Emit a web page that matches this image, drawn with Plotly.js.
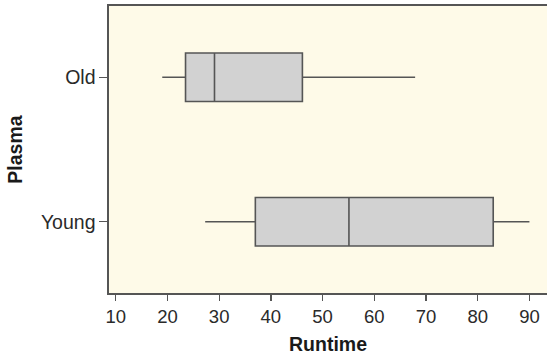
<!DOCTYPE html>
<html>
<head>
<meta charset="utf-8">
<script src="https://cdn.plot.ly/plotly-3.0.1.min.js"></script>
<style>html,body{margin:0;padding:0;background:#fff;}#chart{width:547px;height:356px;}</style>
</head>
<body>
<div id="chart"></div>
<script>
var groups = ["Old", "Young"];
var lowerWhisker = [19.0, 27.3];
var q1Values = [23.5, 37.0];
var medianValues = [29.1, 55.1];
var q3Values = [46.1, 83.0];
var upperWhisker = [67.9, 90.0];
var xTicks = [10, 20, 30, 40, 50, 60, 70, 80, 90];

var traces = groups.map(function (g, i) {
  return {
    type: "box",
    orientation: "h",
    y: [g],
    lowerfence: [lowerWhisker[i]],
    q1: [q1Values[i]],
    median: [medianValues[i]],
    q3: [q3Values[i]],
    upperfence: [upperWhisker[i]],
    width: 0.336,
    whiskerwidth: 0,
    fillcolor: "#d2d2d2",
    line: { color: "#555555", width: 1.6 },
    hoverinfo: "skip",
    showlegend: false
  };
});

var layout = {
  width: 547,
  height: 356,
  margin: { l: 109, r: 0, t: 6, b: 63 },
  paper_bgcolor: "#ffffff",
  plot_bgcolor: "#fefae8",
  font: { family: "Liberation Sans, Arial, sans-serif", color: "#222222", size: 18.5 },
  xaxis: {
    range: [8.7, 93.4],
    tickvals: xTicks,
    ticks: "outside",
    ticklen: 6,
    tickwidth: 1.3,
    tickcolor: "#555555",
    showline: true,
    mirror: true,
    linecolor: "#555555",
    linewidth: 1.6,
    showgrid: false,
    zeroline: false,
    tickfont: { size: 18.5, color: "#2a2a2a" },
    title: { text: "Runtime", font: { size: 19.5, color: "#1a1a1a", weight: "bold" }, standoff: 11 }
  },
  yaxis: {
    type: "category",
    categoryorder: "array",
    categoryarray: ["Young", "Old"],
    range: [-0.494, 1.494],
    ticks: "outside",
    ticklen: 8,
    tickwidth: 1.3,
    tickcolor: "#555555",
    showline: true,
    mirror: false,
    linecolor: "#555555",
    linewidth: 1.6,
    showgrid: false,
    zeroline: false,
    tickfont: { size: 19.5, color: "#2a2a2a" },
    title: { text: "Plasma", font: { size: 19.5, color: "#1a1a1a", weight: "bold" }, standoff: 13 }
  }
};

Plotly.newPlot("chart", traces, layout, { displayModeBar: false, staticPlot: true });
</script>
</body>
</html>
